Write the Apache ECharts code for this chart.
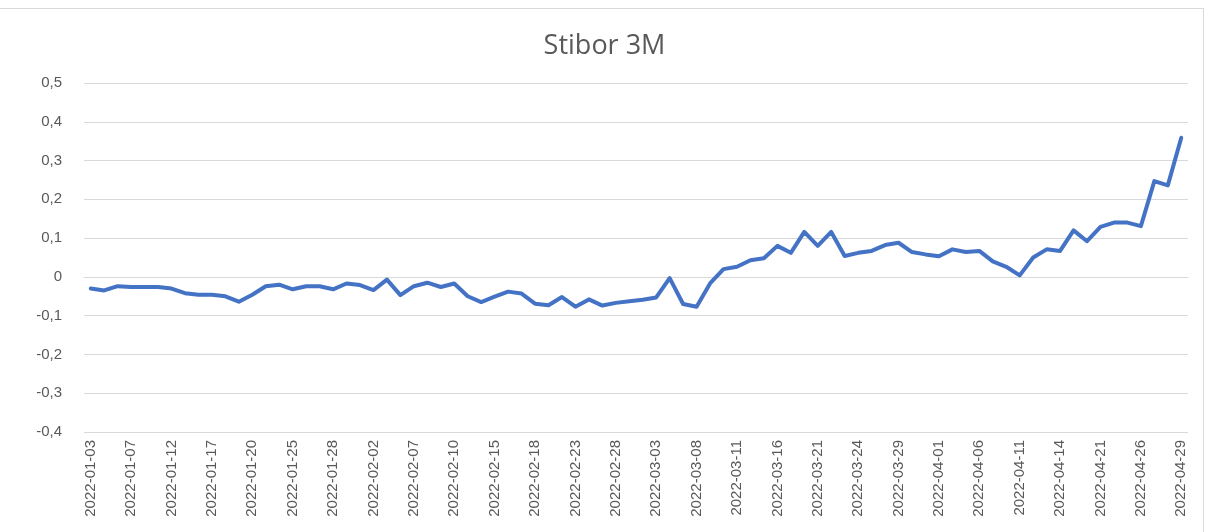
<!DOCTYPE html>
<html>
<head>
<meta charset="utf-8">
<title>Stibor 3M</title>
<script src="https://cdn.jsdelivr.net/npm/echarts@6/dist/echarts.min.js"></script>
<style>
    html, body { margin: 0; padding: 0; background: #fff; }
    #frame {
        position: absolute; left: -1px; top: 8px;
        width: 1203px; height: 540px;
        border: 1px solid #d9d9d9;
    }
    #chart { position: absolute; left: 0; top: 0; width: 1209px; height: 532px; }
</style>
</head>
<body>
<div id="frame"></div>
<div id="chart"></div>
<script>
// Swedish business days, Jan 3 - Apr 29 2022
const dates = [
    '2022-01-03', '2022-01-04', '2022-01-05', '2022-01-07', '2022-01-10', '2022-01-11',
    '2022-01-12', '2022-01-13', '2022-01-14', '2022-01-17', '2022-01-18', '2022-01-19',
    '2022-01-20', '2022-01-21', '2022-01-24', '2022-01-25', '2022-01-26', '2022-01-27',
    '2022-01-28', '2022-01-31', '2022-02-01', '2022-02-02', '2022-02-03', '2022-02-04',
    '2022-02-07', '2022-02-08', '2022-02-09', '2022-02-10', '2022-02-11', '2022-02-14',
    '2022-02-15', '2022-02-16', '2022-02-17', '2022-02-18', '2022-02-21', '2022-02-22',
    '2022-02-23', '2022-02-24', '2022-02-25', '2022-02-28', '2022-03-01', '2022-03-02',
    '2022-03-03', '2022-03-04', '2022-03-07', '2022-03-08', '2022-03-09', '2022-03-10',
    '2022-03-11', '2022-03-14', '2022-03-15', '2022-03-16', '2022-03-17', '2022-03-18',
    '2022-03-21', '2022-03-22', '2022-03-23', '2022-03-24', '2022-03-25', '2022-03-28',
    '2022-03-29', '2022-03-30', '2022-03-31', '2022-04-01', '2022-04-04', '2022-04-05',
    '2022-04-06', '2022-04-07', '2022-04-08', '2022-04-11', '2022-04-12', '2022-04-13',
    '2022-04-14', '2022-04-19', '2022-04-20', '2022-04-21', '2022-04-22', '2022-04-25',
    '2022-04-26', '2022-04-27', '2022-04-28', '2022-04-29'
];

const stibor3m = [
    -0.030, -0.035, -0.024, -0.026, -0.026, -0.026,
    -0.030, -0.042, -0.046, -0.046, -0.050, -0.064,
    -0.046, -0.024, -0.020, -0.032, -0.024, -0.024,
    -0.032, -0.017, -0.021, -0.034, -0.007, -0.047,
    -0.024, -0.015, -0.026, -0.017, -0.050, -0.065,
    -0.051, -0.038, -0.043, -0.069, -0.073, -0.052,
    -0.077, -0.058, -0.074, -0.067, -0.063, -0.059,
    -0.053, -0.003, -0.070, -0.077, -0.017, 0.020,
    0.026, 0.043, 0.048, 0.080, 0.062, 0.116,
    0.080, 0.116, 0.054, 0.062, 0.067, 0.082,
    0.088, 0.064, 0.058, 0.053, 0.071, 0.064,
    0.067, 0.040, 0.026, 0.004, 0.050, 0.071,
    0.067, 0.120, 0.092, 0.129, 0.140, 0.140,
    0.131, 0.247, 0.236, 0.359
];

const Y_MIN = -0.4;
const Y_MAX = 0.5;
const Y_STEP = 0.1;

const TEXT_COLOR = '#595959';
const GRID_COLOR = '#d9d9d9';
const LINE_COLOR = '#4472c4';
const FONT = '"Liberation Sans", Arial, sans-serif';

const fmtComma = v => {
    const r = Math.round(v * 10) / 10;
    return String(r).replace('.', ',');
};

const chart = echarts.init(document.getElementById('chart'), null, { renderer: 'canvas' });

chart.setOption({
    backgroundColor: 'transparent',
    animation: false,
    title: {
        text: 'Stibor 3M',
        left: 'center',
        top: 28,
        textStyle: {
            fontFamily: '"Open Sans", sans-serif',
            fontSize: 27,
            fontWeight: 'normal',
            color: TEXT_COLOR
        }
    },
    grid: {
        left: 84,
        right: 21,
        top: 83,
        bottom: 100,
        containLabel: false
    },
    xAxis: {
        type: 'category',
        data: dates,
        boundaryGap: true,
        axisLine: { lineStyle: { color: GRID_COLOR, width: 1 } },
        axisTick: { show: false },
        axisLabel: {
            interval: 2,
            rotate: 90,
            margin: 8,
            fontFamily: FONT,
            fontSize: 15,
            color: TEXT_COLOR
        }
    },
    yAxis: {
        type: 'value',
        min: Y_MIN,
        max: Y_MAX,
        interval: Y_STEP,
        axisLine: { show: false },
        axisTick: { show: false },
        splitLine: { lineStyle: { color: GRID_COLOR, width: 1 } },
        axisLabel: {
            margin: 22,
            fontFamily: FONT,
            fontSize: 15,
            color: TEXT_COLOR,
            formatter: fmtComma
        }
    },
    series: [{
        name: 'Stibor 3M',
        type: 'line',
        data: stibor3m,
        symbol: 'none',
        lineStyle: { color: LINE_COLOR, width: 4, join: 'round', cap: 'round' },
        itemStyle: { color: LINE_COLOR }
    }]
});
</script>
</body>
</html>
